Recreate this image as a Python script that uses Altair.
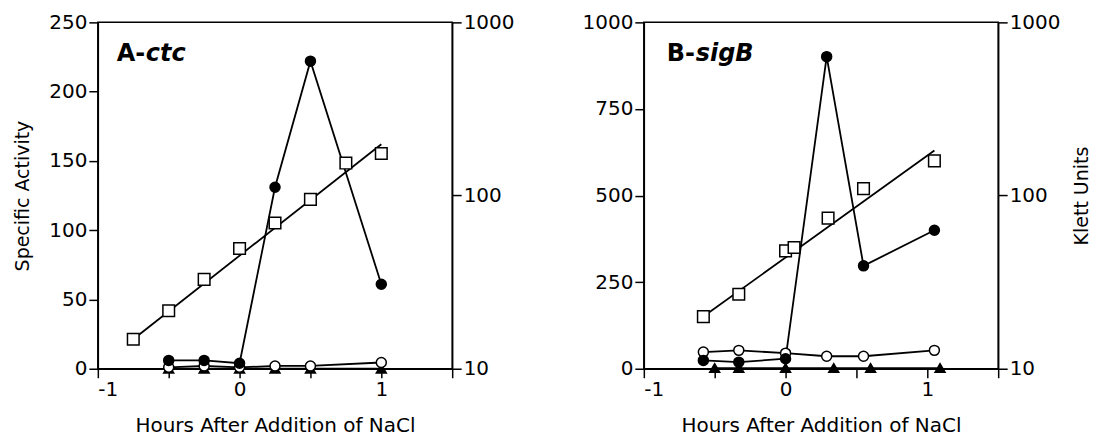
import altair as alt
import pandas as pd

FONT = "DejaVu Sans"

# ---------------- Panel A (ctc) ----------------
a_sq_hours = [-0.75, -0.5, -0.25, 0.0, 0.25, 0.5, 0.75, 1.0]
a_klett = [14.8, 21.6, 32.8, 49.5, 69.4, 95.0, 154.0, 175.0]
a_fit_hours = [-0.75, 1.0]
a_fit_klett = [14.8, 198.0]
a_hours = [-0.5, -0.25, 0.0, 0.25, 0.5, 1.0]
a_filled = [6.0, 6.0, 4.0, 131.0, 222.0, 61.0]
a_open = [1.0, 2.0, 1.0, 2.0, 2.0, 4.5]
a_tri_hours = [-0.5, -0.25, 0.0, 0.25, 0.5, 1.0]
a_tri = [0.0, 0.0, 0.0, 0.0, 0.0, 0.0]

# ---------------- Panel B (sigB) ----------------
b_sq_hours = [-0.58, -0.33, 0.0, 0.06, 0.30, 0.55, 1.05]
b_klett = [20.0, 26.9, 47.9, 50.1, 74.1, 109.6, 158.5]
b_fit_hours = [-0.58, 1.05]
b_fit_klett = [20.0, 182.0]
b_hours = [-0.58, -0.33, 0.0, 0.29, 0.55, 1.05]
b_filled = [24.0, 19.0, 29.0, 901.0, 297.0, 400.0]
b_open = [48.0, 53.0, 45.0, 36.0, 36.0, 53.0]
b_tri_hours = [-0.5, -0.33, 0.0, 0.34, 0.60, 1.09]
b_tri = [2.0, 2.0, 2.0, 2.0, 2.0, 2.0]

x_ticks = [-1, -0.5, 0, 0.5, 1, 1.5]
klett_ticks = [10, 100, 1000]
a_act_ticks = [0, 50, 100, 150, 200, 250]
b_act_ticks = [0, 250, 500, 750, 1000]

SERIES = ["triangle", "open", "filled"]


def activity_df(hours, filled, open_, tri_hours, tri):
    rows = []
    for h, v in zip(tri_hours, tri):
        rows.append({"hours": h, "act": v, "series": "triangle", "ord": 0})
    for h, v in zip(hours, open_):
        rows.append({"hours": h, "act": v, "series": "open", "ord": 1})
    for h, v in zip(hours, filled):
        rows.append({"hours": h, "act": v, "series": "filled", "ord": 2})
    return pd.DataFrame(rows)


xlabel = "datum.value == -1 ? '-1' : (datum.value == 0 ? '0' : (datum.value == 1 ? '1' : ''))"


def panel(act_df, sq_hours, klett, fit_hours, fit_klett, act_max, act_ticks,
          left_title, right_title, letter, gene, lab_x, letter_w):
    xenc = alt.X(
        "hours:Q",
        scale=alt.Scale(domain=[-1, 1.5], nice=False, zero=False),
        axis=alt.Axis(values=x_ticks, labelExpr=xlabel,
                      title="Hours After Addition of NaCl", titlePadding=16,
                      titleFontSize=20),
    )
    left_axis_kwargs = dict(values=act_ticks, orient="left", format="d")
    if left_title:
        left_axis_kwargs["title"] = left_title
        left_axis_kwargs["titlePadding"] = 16
    else:
        left_axis_kwargs["title"] = None
    yleft = alt.Y("act:Q", scale=alt.Scale(domain=[0, act_max], nice=False),
                  axis=alt.Axis(**left_axis_kwargs))

    lines = alt.Chart(act_df).mark_line(color="black", strokeWidth=1.8).encode(
        x=xenc, y=yleft, detail="series:N")
    pts = alt.Chart(act_df).mark_point(
        size=100, strokeWidth=1.5, opacity=1, stroke="black"
    ).encode(
        x=xenc, y=yleft,
        shape=alt.Shape("series:N", scale=alt.Scale(domain=SERIES, range=["triangle-up", "circle", "circle"]), legend=None),
        fill=alt.Fill("series:N", scale=alt.Scale(domain=SERIES, range=["black", "white", "black"]), legend=None),
        order=alt.Order("ord:Q"),
    )
    left = alt.layer(lines, pts)

    right_axis_kwargs = dict(values=klett_ticks, orient="right", format="d")
    if right_title:
        right_axis_kwargs["title"] = right_title
        right_axis_kwargs["titlePadding"] = 32
        right_axis_kwargs["titleAngle"] = 270
    else:
        right_axis_kwargs["title"] = None
    yright = alt.Y("klett:Q", scale=alt.Scale(type="log", domain=[10, 1000], nice=False),
                   axis=alt.Axis(**right_axis_kwargs))
    sq_df = pd.DataFrame({"hours": sq_hours, "klett": klett})
    fit_df = pd.DataFrame({"hours": fit_hours, "klett": fit_klett})
    fit = alt.Chart(fit_df).mark_line(color="black", strokeWidth=1.8).encode(x=xenc, y=yright)
    sq = alt.Chart(sq_df).mark_point(shape="square", size=135, fill="white", stroke="black",
                                     strokeWidth=1.5, opacity=1).encode(x=xenc, y=yright)
    right = alt.layer(fit, sq)

    lab_df = pd.DataFrame({"t": [letter], "g": [gene]})
    t1 = alt.Chart(lab_df).mark_text(align="left", baseline="middle", font=FONT,
                                     fontSize=24, fontWeight="bold", color="black").encode(
        text="t:N", x=alt.value(lab_x), y=alt.value(32))
    t2 = alt.Chart(lab_df).mark_text(align="left", baseline="middle", font=FONT,
                                     fontSize=24, fontWeight="bold", fontStyle="italic",
                                     color="black").encode(
        text="g:N", x=alt.value(lab_x + letter_w), y=alt.value(32))

    return alt.layer(left, right, t1, t2).resolve_scale(y="independent").properties(
        width=355, height=347)


pa = panel(activity_df(a_hours, a_filled, a_open, a_tri_hours, a_tri),
           a_sq_hours, a_klett, a_fit_hours, a_fit_klett, 250, a_act_ticks,
           "Specific Activity", None, "A-", "ctc", 19, 29)
pb = panel(activity_df(b_hours, b_filled, b_open, b_tri_hours, b_tri),
           b_sq_hours, b_klett, b_fit_hours, b_fit_klett, 1000, b_act_ticks,
           None, "Klett Units", "B-", "sigB", 23, 29)

chart = alt.hconcat(pa, pb, spacing=66).properties(
    padding={"left": 5, "top": 3, "right": 0, "bottom": 0}
).configure(background="white").configure_view(
    stroke="black", strokeWidth=1.5
).configure_axis(
    grid=False, labelFont=FONT, titleFont=FONT, labelFontSize=20, titleFontSize=19,
    titleFontWeight="normal", labelColor="black", titleColor="black",
    domainColor="black", tickColor="black", domainWidth=1.5, tickWidth=1.5,
    tickSize=9, labelPadding=2,
)

chart.save("out.html", embed_options={"renderer": "svg", "actions": False})
